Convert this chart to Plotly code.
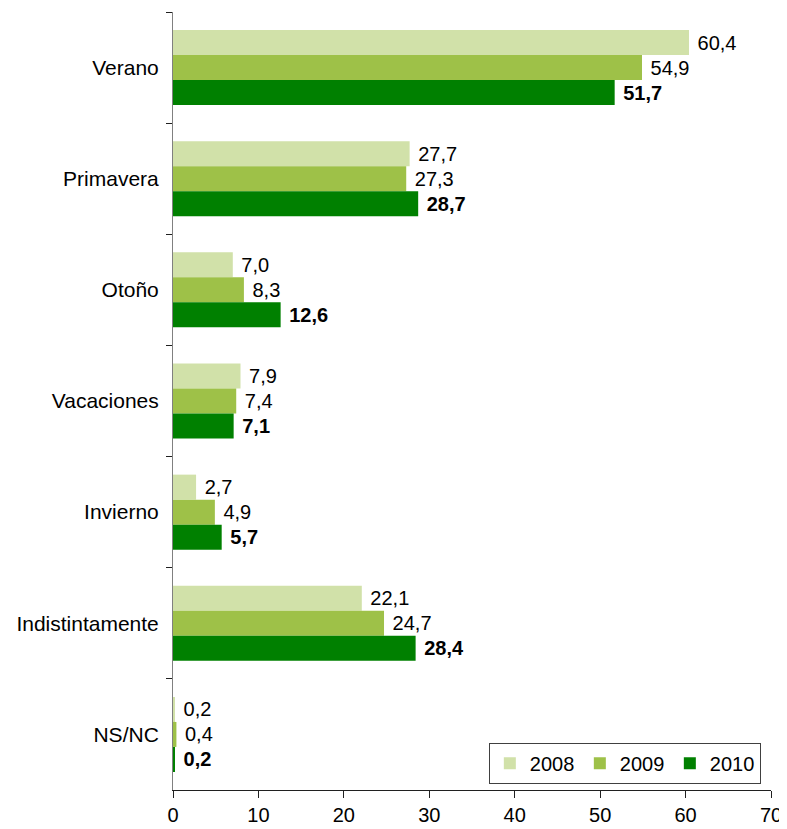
import plotly.graph_objects as go

categories = ["Verano", "Primavera", "Otoño", "Vacaciones", "Invierno", "Indistintamente", "NS/NC"]
v2008 = [60.4, 27.7, 7.0, 7.9, 2.7, 22.1, 0.2]
v2009 = [54.9, 27.3, 8.3, 7.4, 4.9, 24.7, 0.4]
v2010 = [51.7, 28.7, 12.6, 7.1, 5.7, 28.4, 0.2]
series_names = ["2008", "2009", "2010"]
colors = ["#D1E1A9", "#9EC148", "#008000"]
x_ticks = [0, 10, 20, 30, 40, 50, 60, 70]

def fmt(v, bold=False):
    s = f"{v:.1f}".replace(".", ",")
    s = f"<b>{s}</b>" if bold else s
    return "\u00a0" + s

FONT = "Liberation Sans, Arial, sans-serif"

fig = go.Figure()
for name, vals, col in zip(series_names, [v2008, v2009, v2010], colors):
    bold = name == "2010"
    fig.add_trace(go.Bar(
        y=categories, x=vals, name=name, orientation="h",
        marker=dict(color=col, line=dict(width=0)),
        text=[fmt(v, bold) for v in vals],
        textposition="outside", cliponaxis=False, constraintext="none",
        textfont=dict(family=FONT, size=20, color="black"),
    ))

fig.update_layout(
    width=779, height=821,
    margin=dict(l=165, r=16, t=4, b=39),
    plot_bgcolor="white", paper_bgcolor="white",
    barmode="group", bargap=0.325, bargroupgap=0,
    font=dict(family=FONT, size=20, color="black"),
    legend=dict(
        orientation="h", x=0.983, xanchor="right", y=0.008, yanchor="bottom",
        bordercolor="#404040", borderwidth=1, bgcolor="white",
        font=dict(size=20), traceorder="normal",
        entrywidth=45, entrywidthmode="pixels",
    ),
    xaxis=dict(
        range=[0, 70], tickvals=x_ticks, showgrid=False, zeroline=False,
        showline=True, linecolor="#202020", linewidth=1,
        ticks="outside", ticklen=7, tickcolor="#202020",
        tickfont=dict(size=20),
    ),
    yaxis=dict(
        autorange="reversed", showgrid=False, showline=True,
        linecolor="#808080", linewidth=1, ticks="outside", tickson="boundaries",
        ticklen=6, tickcolor="#202020", tickfont=dict(size=21),
        ticklabelstandoff=9,
    ),
)

fig.write_html("out.html")
